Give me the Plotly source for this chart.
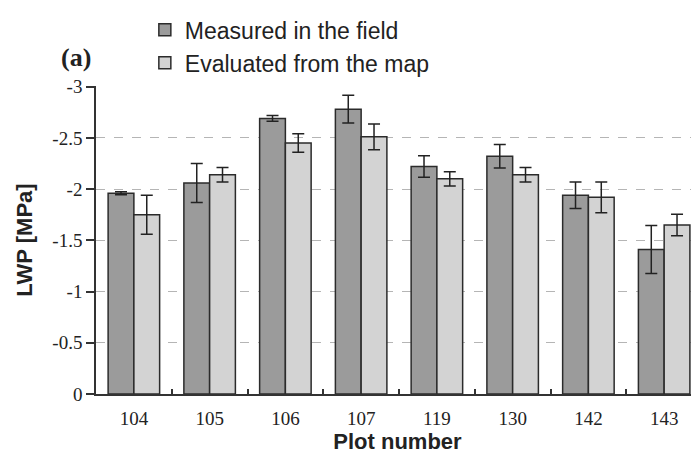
import plotly.graph_objects as go

plots = ["104", "105", "106", "107", "119", "130", "142", "143"]
measured = [-1.96, -2.06, -2.69, -2.78, -2.22, -2.32, -1.94, -1.41]
measured_err = [0.015, 0.19, 0.027, 0.135, 0.105, 0.115, 0.13, 0.235]
evaluated = [-1.75, -2.14, -2.45, -2.51, -2.10, -2.14, -1.92, -1.65]
evaluated_err = [0.19, 0.07, 0.09, 0.125, 0.07, 0.07, 0.15, 0.105]

y_ticks = [0, -0.5, -1, -1.5, -2, -2.5, -3]
y_ticktext = ["0", "-0.5", "-1", "-1.5", "-2", "-2.5", "-3"]

edge = "#2b2b2b"
err_style = dict(type="data", thickness=1.5, width=6, color="#222222")

fig = go.Figure()
fig.add_trace(go.Bar(
    x=plots, y=measured, name="Measured in the field",
    marker=dict(color="#9b9b9b", line=dict(color=edge, width=1.5)),
    error_y=dict(array=measured_err, **err_style), legendgroup="a",
))
fig.add_trace(go.Bar(
    x=plots, y=evaluated, name="Evaluated from the map",
    marker=dict(color="#d3d3d3", line=dict(color=edge, width=1.5)),
    error_y=dict(array=evaluated_err, **err_style), legendgroup="b",
))

# the page adds an 8px body margin, so the figure is 8px smaller on each axis
fig.update_layout(
    width=691, height=447,
    margin=dict(l=88, r=0, t=78, b=61),
    paper_bgcolor="white", plot_bgcolor="white",
    barmode="group", bargap=0.32, bargroupgap=0,
    legend=dict(
        x=0.081, y=1.252, xanchor="left", yanchor="top",
        font=dict(family="Liberation Sans, Arial", size=23, color="#222222"),
        bgcolor="rgba(0,0,0,0)", tracegroupgap=0,
    ),
    showlegend=True,
)
fig.update_xaxes(
    type="category", range=[-0.5, 7.46],
    showline=True, linecolor="#333333", linewidth=1.5,
    ticks="inside", tickson="boundaries", ticklen=5, tickcolor="#333333", tickwidth=1.5,
    tickfont=dict(family="Liberation Serif, Times New Roman", size=19, color="#222222"),
    ticklabelstandoff=6,
    showgrid=False, zeroline=False,
    title=dict(text="<b>Plot number</b>", standoff=0,
               font=dict(family="Liberation Sans, Arial", size=22, color="#222222")),
)
fig.update_yaxes(
    range=[0, -3.006],
    tickvals=y_ticks, ticktext=y_ticktext,
    showline=True, linecolor="#333333", linewidth=1.5,
    ticks="outside", ticklen=8, tickcolor="#333333", tickwidth=1.5,
    tickfont=dict(family="Liberation Serif, Times New Roman", size=19, color="#222222"),
    showgrid=True, gridcolor="#b5b5b5", gridwidth=1, griddash="dash",
    zeroline=False,
    title=dict(text="<b>LWP [MPa]</b>", standoff=14,
               font=dict(family="Liberation Sans, Arial", size=22, color="#222222")),
)
fig.add_annotation(
    text="<b>(a)</b>", xref="paper", yref="paper", x=-0.033, y=1.094,
    xanchor="center", yanchor="middle", showarrow=False,
    font=dict(family="Liberation Serif, Times New Roman", size=26, color="#222222"),
)

fig.write_html("out.html")
